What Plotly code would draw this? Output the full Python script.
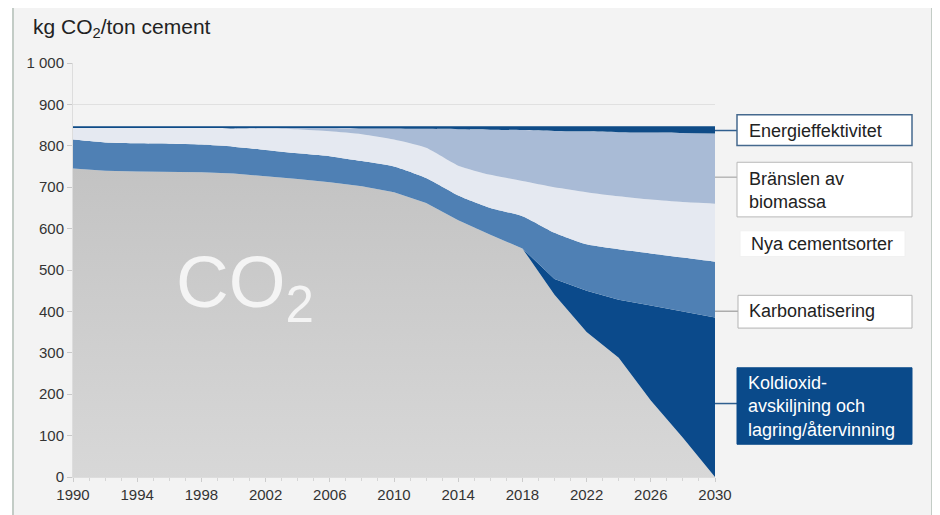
import plotly.graph_objects as go

# ---- data (kg CO2 per ton cement, stacked contributions) ----
years = [1990, 1992, 1994, 1996, 1998, 2000, 2002, 2004, 2006, 2008, 2010,
         2012, 2014, 2016, 2018, 2020, 2022, 2024, 2026, 2028, 2030]
co2_remaining = [745, 740, 738, 737, 736, 733, 727, 720, 712, 702, 688,
                 662, 620, 585, 552, 440, 350, 288, 185, 95, 0]
ccs = [0, 0, 0, 0, 0, 0, 0, 0, 0, 0, 0,
       0, 0, 0, 0, 38, 100, 140, 229, 305, 385]
carbonation = [70, 68, 68, 68, 67, 65, 63, 62, 63, 61, 62,
               60, 60, 65, 78, 112, 112, 122, 126, 130, 135]
new_cements = [28, 35, 37, 38, 40, 44, 52, 58, 60, 65, 65,
               73, 72, 80, 85, 110, 126, 128, 130, 134, 140]
biomass = [0, 0, 0, 0, 0, 0, 1, 3, 8, 14, 27,
           46, 88, 109, 123, 136, 147, 155, 162, 167, 170]
energy_eff = [4, 4, 4, 4, 4, 5, 4, 4, 4, 5, 5,
              6, 7, 8, 9, 11, 12, 14, 15, 16, 17]

x_ticks = [1990, 1994, 1998, 2002, 2006, 2010, 2014, 2018, 2022, 2026, 2030]
y_ticks = [0, 100, 200, 300, 400, 500, 600, 700, 800, 900, 1000]
y_ticklabels = ["0", "100", "200", "300", "400", "500", "600", "700", "800", "900", "1 000"]

labels = {
    "energy": "Energieffektivitet",
    "biomass": "Bränslen av<br>biomassa",
    "new": "Nya cementsorter",
    "carb": "Karbonatisering",
    "ccs": "Koldioxid-<br>avskiljning och<br>lagring/återvinning",
}

FONT = "Liberation Sans, Arial, sans-serif"
OFF = 8                     # page body margin
W, H = 940 - OFF, 515 - OFF
ML, MT = 73 - OFF, 63 - OFF
MR = W - (715 - OFF)
MB = H - (480 - OFF)
PW, PH = W - ML - MR, H - MT - MB


def px(x):
    """reference-picture pixel x -> paper coordinate"""
    return (x - OFF - ML) / PW


def py(y):
    """reference-picture pixel y -> paper coordinate"""
    return (H - MB - (y - OFF)) / PH


SPL = dict(width=0, shape="spline", smoothing=0.6)

fig = go.Figure()

fig.add_trace(go.Scatter(
    x=years, y=co2_remaining, stackgroup="one", mode="lines",
    line=dict(width=0), fillcolor="#c6c6c6",
    fillgradient=dict(type="vertical", start=0, stop=750,
                      colorscale=[[0, "#d8d8d8"], [1, "#c3c3c3"]]),
    name="CO2", hoverinfo="skip"))
fig.add_trace(go.Scatter(
    x=years, y=ccs, stackgroup="one", mode="lines",
    line=dict(width=0), fillcolor="#0b4a8b", name="CCS", hoverinfo="skip"))
fig.add_trace(go.Scatter(
    x=years, y=carbonation, stackgroup="one", mode="lines",
    line=SPL, fillcolor="#4f80b4", name="Karb", hoverinfo="skip"))
fig.add_trace(go.Scatter(
    x=years, y=new_cements, stackgroup="one", mode="lines",
    line=SPL, fillcolor="#e5e9f1", name="Nya", hoverinfo="skip"))
fig.add_trace(go.Scatter(
    x=years, y=biomass, stackgroup="one", mode="lines",
    line=SPL, fillcolor="#a9bbd6", name="Bio", hoverinfo="skip"))
fig.add_trace(go.Scatter(
    x=years, y=energy_eff, stackgroup="one", mode="lines",
    line=SPL, fillcolor="#0e4b87", name="Energi", hoverinfo="skip"))

shapes = []
# outer frame
shapes.append(dict(type="rect", xref="paper", yref="paper",
                   x0=px(13), x1=px(932), y0=py(530), y1=py(5),
                   fillcolor="#f3f3f3", line=dict(color="#c3ccc6", width=2),
                   layer="below"))

# leader lines
leaders = [(131, "#2f5f8f", 1.5), (178, "#a8a8a8", 1.2),
           (313, "#9a9a9a", 1.2), (406, "#2f5f8f", 1.5)]
for yy, col, wd in leaders:
    shapes.append(dict(type="line", xref="paper", yref="paper",
                       x0=px(715), x1=px(738), y0=py(yy), y1=py(yy),
                       line=dict(color=col, width=wd)))

# label boxes
boxes = [
    (737, 912, 115, 146, "#ffffff", "#45698e", 1.5),
    (737, 912, 163, 218, "#ffffff", "#b8b8b8", 1),
    (740, 905, 232, 258, "#ffffff", "#f0f0f0", 1),
    (738, 912, 297, 330, "#ffffff", "#b3b3b3", 1),
    (737, 912, 370, 447, "#0a4a8a", "#0a4a8a", 1),
]
for x0, x1, y0, y1, fc, lc, lw in boxes:
    shapes.append(dict(type="rect", xref="paper", yref="paper",
                       x0=px(x0), x1=px(x1), y0=py(y1), y1=py(y0),
                       fillcolor=fc, line=dict(color=lc, width=lw)))

LBL = 18
annotations = [
    dict(text="kg CO<sub>2</sub>/ton cement", x=px(31), y=py(28),
         xanchor="left", yanchor="middle", font=dict(size=21, color="#222222")),
    dict(text="CO<sub>2</sub>", x=1996.3, y=458, xref="x", yref="y",
         xanchor="left", yanchor="middle",
         font=dict(size=73, color="#f4f4f4")),
    dict(text=labels["energy"], x=px(747), y=py(131), xanchor="left", yanchor="middle",
         font=dict(size=LBL, color="#222222")),
    dict(text=labels["biomass"], x=px(747), y=py(191), xanchor="left", yanchor="middle",
         align="left", font=dict(size=LBL, color="#222222")),
    dict(text=labels["new"], x=px(749), y=py(245), xanchor="left", yanchor="middle",
         font=dict(size=LBL, color="#222222")),
    dict(text=labels["carb"], x=px(747), y=py(313), xanchor="left", yanchor="middle",
         font=dict(size=LBL, color="#222222")),
    dict(text=labels["ccs"], x=px(746), y=py(409), xanchor="left", yanchor="middle",
         align="left", font=dict(size=LBL, color="#ffffff")),
]
for a in annotations:
    a.setdefault("xref", "paper")
    a.setdefault("yref", "paper")
    a["showarrow"] = False

fig.update_layout(
    width=W, height=H,
    margin=dict(l=ML, r=MR, t=MT, b=MB, pad=0),
    paper_bgcolor="#ffffff", plot_bgcolor="#f3f3f3",
    font=dict(family=FONT, size=15, color="#333333"),
    showlegend=False,
    shapes=shapes, annotations=annotations,
    xaxis=dict(range=[1990, 2030], tickvals=x_ticks, ticktext=[str(v) for v in x_ticks],
               showgrid=False, zeroline=False, ticks="outside", ticklen=4,
               tickcolor="#cccccc", showline=True, linecolor="#dddddd",
               minor=dict(dtick=1, ticks="outside", ticklen=3, tickcolor="#d5d5d5"),
               tickfont=dict(size=15, color="#333333")),
    yaxis=dict(range=[0, 1000], tickvals=y_ticks, ticktext=y_ticklabels,
               showgrid=True, gridcolor="#e0e0e0", gridwidth=1, zeroline=False,
               ticks="outside", ticklen=5, tickcolor="#c8c8c8",
               showline=True, linecolor="#dddddd",
               tickfont=dict(size=15, color="#333333")),
)

fig.write_html("out.html")
